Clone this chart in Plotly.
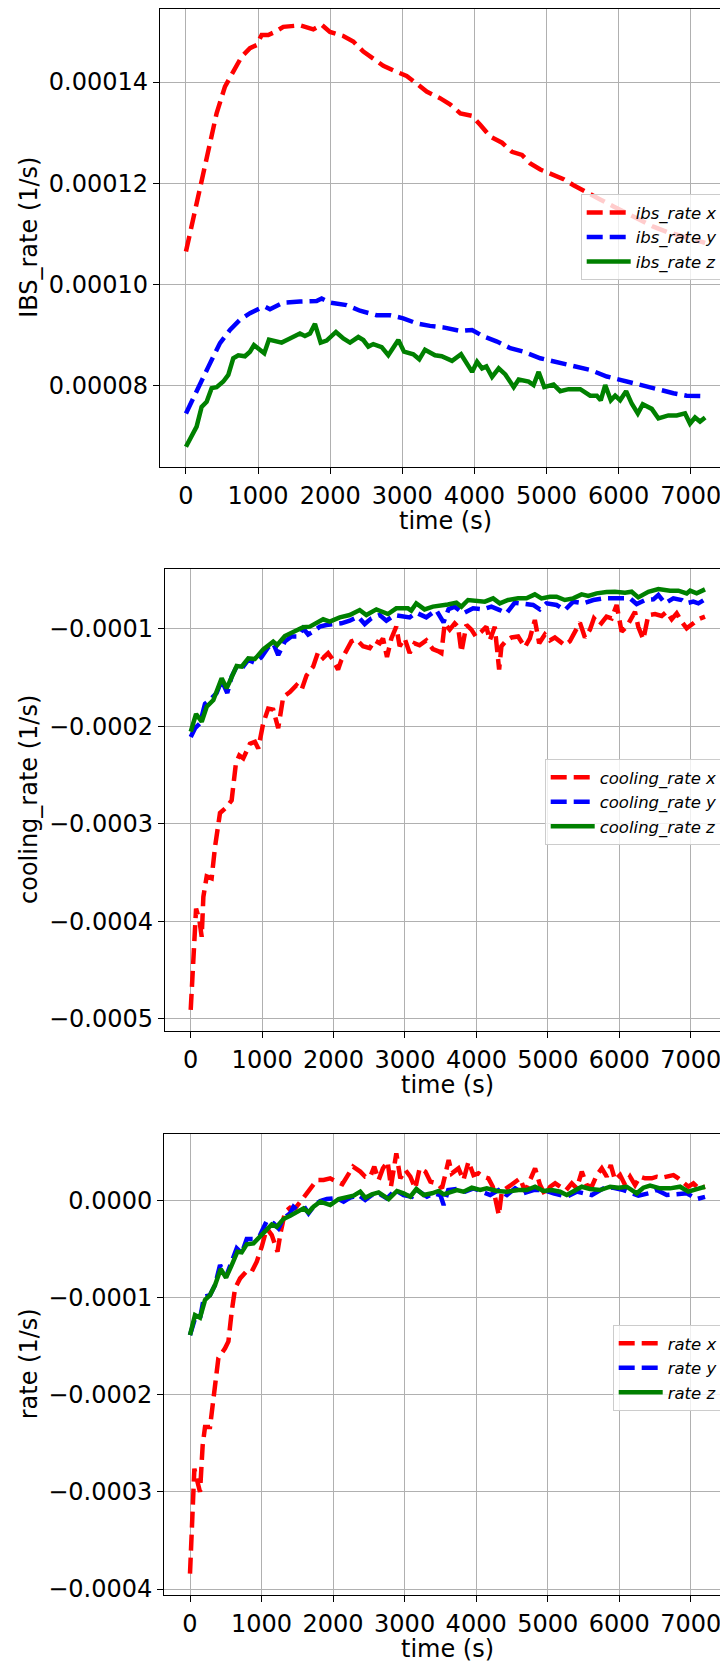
import plotly.graph_objects as go

# ---- panel 1: IBS rates ----
ibs_x_t = [0, 194, 310, 425, 541, 656, 772, 888, 980, 1050, 1142, 1234, 1350, 1581, 1766, 1882, 1997, 2182, 2321, 2460,
           2600, 2737, 2922, 3060, 3200, 3338, 3523, 3661, 3806, 3968, 4083, 4222, 4383, 4521, 4660, 4775, 4914, 5052, 5237, 5375,
           5560, 5744, 5929, 6114, 6298, 6483, 6667, 6852, 7037, 7200]
ibs_x = [0.0001065, 0.0001187, 0.0001266, 0.0001338, 0.0001391, 0.0001420, 0.0001450, 0.0001467, 0.0001473, 0.0001493,
         0.0001493, 0.0001499, 0.0001509, 0.0001512, 0.0001504, 0.0001513, 0.0001499, 0.0001491, 0.0001480, 0.0001460,
         0.0001447, 0.0001432, 0.0001420, 0.0001412, 0.0001397, 0.0001381, 0.0001368, 0.0001356, 0.0001338, 0.0001333,
         0.0001315, 0.0001292, 0.0001280, 0.0001262, 0.0001256, 0.0001239, 0.0001227, 0.0001219, 0.0001208, 0.0001196,
         0.0001183, 0.0001168, 0.0001154, 0.0001140, 0.0001127, 0.0001114, 0.0001104, 0.0001096, 0.0001089, 0.0001082]

ibs_y_t = [0, 148, 310, 472, 610, 749, 888, 1026, 1096, 1165, 1350, 1581, 1812, 1882, 1997, 2228, 2413, 2644, 2829, 3014,
           3200, 3384, 3569, 3806, 3968, 4129, 4314, 4498, 4683, 4914, 5144, 5375, 5606, 5837, 6021, 6206, 6390, 6575, 6760, 6944,
           7200]
ibs_y = [0.0000745, 0.0000791, 0.0000837, 0.0000884, 0.0000910, 0.0000930, 0.0000943, 0.0000953, 0.0000956, 0.0000951,
         0.0000964, 0.0000966, 0.0000967, 0.0000972, 0.0000964, 0.0000959, 0.0000948, 0.0000939, 0.0000939, 0.0000933,
         0.0000923, 0.0000918, 0.0000915, 0.0000908, 0.0000910, 0.0000897, 0.0000887, 0.0000874, 0.0000867, 0.0000854,
         0.0000847, 0.0000839, 0.0000831, 0.0000818, 0.0000811, 0.0000804, 0.0000797, 0.0000791, 0.0000785, 0.0000780,
         0.0000779]

ibs_z_t = [0, 79, 148, 217, 287, 356, 425, 518, 587, 656, 726, 818, 888, 943, 1003, 1086, 1151, 1234, 1327, 1442,
           1581, 1650, 1720, 1789, 1868, 1951, 2080, 2182, 2275, 2390, 2460, 2529, 2598, 2714, 2806, 2945, 3024, 3153, 3236, 3315,
           3454, 3546, 3690, 3815, 3968, 4037, 4106, 4166, 4245, 4337, 4429, 4545, 4614, 4752, 4821, 4891, 4969, 5098, 5190, 5306,
           5468, 5606, 5698, 5752, 5814, 5892, 5952, 6021, 6104, 6183, 6266, 6335, 6460, 6552, 6690, 6806, 6921, 6990, 7060, 7129,
           7200]
ibs_z = [0.0000679, 0.0000699, 0.0000719, 0.0000758, 0.0000768, 0.0000795, 0.0000797, 0.0000808, 0.0000821, 0.0000854,
         0.0000860, 0.0000858, 0.0000867, 0.0000880, 0.0000874, 0.0000864, 0.0000891, 0.0000889, 0.0000885, 0.0000893,
         0.0000903, 0.0000898, 0.0000903, 0.0000922, 0.0000885, 0.0000889, 0.0000906, 0.0000893, 0.0000885, 0.0000896,
         0.0000890, 0.0000877, 0.0000882, 0.0000876, 0.0000860, 0.0000890, 0.0000867, 0.0000862, 0.0000852, 0.0000871,
         0.0000860, 0.0000858, 0.0000849, 0.0000862, 0.0000827, 0.0000847, 0.0000834, 0.0000838, 0.0000817, 0.0000834,
         0.0000822, 0.0000797, 0.0000812, 0.0000808, 0.0000801, 0.0000827, 0.0000797, 0.0000802, 0.0000789, 0.0000793,
         0.0000793, 0.0000780, 0.0000780, 0.0000771, 0.0000801, 0.0000771, 0.0000780, 0.0000771, 0.0000789, 0.0000764,
         0.0000745, 0.0000763, 0.0000754, 0.0000735, 0.0000741, 0.0000741, 0.0000745, 0.0000725, 0.0000737, 0.0000729,
         0.0000737]

# ---- panel 2: cooling rates ----
cool_x_t = [0, 37, 75, 121, 154, 177, 224, 293, 340, 410, 503, 573, 633, 680, 736, 829, 899, 946, 1015, 1085,
            1155, 1225, 1295, 1388, 1481, 1551, 1621, 1714, 1784, 1854, 1924, 1993, 2063, 2110, 2180, 2250, 2320, 2413, 2506, 2576,
            2646, 2692, 2748, 2809, 2878, 2925, 2995, 3065, 3135, 3204, 3298, 3391, 3461, 3509, 3556, 3626, 3696, 3743, 3790, 3860,
            3930, 3991, 4070, 4140, 4187, 4257, 4318, 4350, 4421, 4491, 4584, 4678, 4748, 4818, 4879, 4958, 5028, 5098, 5168, 5238,
            5308, 5379, 5449, 5519, 5589, 5645, 5729, 5822, 5893, 5963, 6033, 6103, 6173, 6220, 6266, 6337, 6407, 6500, 6594, 6664,
            6734, 6804, 6874, 6944, 7037, 7107, 7200]
cool_x = [-0.000491, -0.000436, -0.000387, -0.000399, -0.000416, -0.000375, -0.000354, -0.000356, -0.000324, -0.000289,
          -0.000283, -0.000276, -0.000238, -0.000230, -0.000233, -0.000218, -0.000216, -0.000223, -0.000197, -0.000182,
          -0.000183, -0.000202, -0.000170, -0.000165, -0.000158, -0.000163, -0.000148, -0.000139, -0.000124, -0.000130,
          -0.000125, -0.000132, -0.000142, -0.000132, -0.000122, -0.000113, -0.000111, -0.000118, -0.000120, -0.000112,
          -0.000115, -0.000110, -0.000129, -0.000110, -0.000098, -0.000118, -0.000110, -0.000125, -0.000115, -0.000117,
          -0.000112, -0.000121, -0.000123, -0.000125, -0.0000945, -0.000101, -0.0000945, -0.000098, -0.000124, -0.0000962,
          -0.000101, -0.000108, -0.000103, -0.000098, -0.000112, -0.000098, -0.000142, -0.000118, -0.000112, -0.000109,
          -0.000108, -0.000119, -0.000110, -0.0000911, -0.000115, -0.000106, -0.000112, -0.000109, -0.000113, -0.000117,
          -0.000113, -0.000104, -0.0000938, -0.000109, -0.000101, -0.0000894, -0.0000962, -0.0000877, -0.0000894, -0.0000757,
          -0.000103, -0.000098, -0.0000894, -0.0000826, -0.000098, -0.000111, -0.000086, -0.000085, -0.000087, -0.0000826,
          -0.0000904, -0.0000843, -0.0000928, -0.0000997, -0.0000945, -0.0000904, -0.0000877]

cool_y_t = [0, 61, 130, 200, 270, 363, 433, 512, 573, 643, 713, 806, 899, 992, 1085, 1155, 1225, 1318, 1411, 1504,
            1574, 1644, 1714, 1807, 1900, 1993, 2110, 2226, 2343, 2436, 2529, 2646, 2739, 2855, 2972, 3065, 3158, 3298, 3437, 3540,
            3610, 3696, 3813, 3953, 4093, 4210, 4327, 4421, 4537, 4678, 4794, 4888, 4981, 5122, 5238, 5355, 5495, 5636, 5776, 5916,
            6056, 6150, 6243, 6360, 6477, 6547, 6640, 6757, 6874, 6935, 7037, 7107, 7200]
cool_y = [-0.000211, -0.000202, -0.000197, -0.000177, -0.000173, -0.000166, -0.000153, -0.000166, -0.000149, -0.000139,
          -0.000141, -0.000132, -0.000135, -0.000129, -0.000119, -0.000115, -0.000127, -0.000113, -0.000108, -0.000108,
          -0.0000997, -0.000106, -0.000103, -0.0000979, -0.0000962, -0.0000952, -0.0000945, -0.0000918, -0.0000877, -0.0000952,
          -0.0000894, -0.0000860, -0.0000918, -0.0000860, -0.0000877, -0.0000884, -0.0000836, -0.0000884, -0.0000809, -0.0000935,
          -0.0000800, -0.0000774, -0.0000843, -0.0000791, -0.0000802, -0.0000774, -0.0000809, -0.0000843, -0.0000733, -0.0000740,
          -0.0000757, -0.0000802, -0.0000740, -0.0000757, -0.0000809, -0.0000723, -0.0000740, -0.0000706, -0.0000689, -0.0000689,
          -0.0000689, -0.0000689, -0.0000747, -0.0000706, -0.0000699, -0.0000654, -0.0000740, -0.0000689, -0.0000706, -0.0000740,
          -0.0000723, -0.0000740, -0.0000699]

cool_z_t = [0, 75, 154, 224, 317, 433, 503, 643, 713, 806, 899, 1015, 1155, 1211, 1318, 1458, 1574, 1667, 1761, 1854,
            1947, 2087, 2226, 2366, 2459, 2599, 2762, 2878, 3041, 3088, 3158, 3274, 3391, 3530, 3600, 3720, 3790, 3883, 4000, 4117,
            4234, 4327, 4444, 4584, 4701, 4818, 4911, 5028, 5122, 5238, 5355, 5472, 5566, 5683, 5822, 5939, 6080, 6173, 6266, 6407,
            6547, 6711, 6827, 6944, 6991, 7084, 7200]
cool_z = [-0.0002056, -0.0001875, -0.0001954, -0.0001800, -0.0001732, -0.0001509, -0.0001612, -0.0001383, -0.0001390, -0.0001304,
          -0.0001311, -0.0001212, -0.0001133, -0.0001168, -0.0001075, -0.0001021, -0.0000986, -0.0000979, -0.0000945, -0.0000904,
          -0.0000928, -0.0000884, -0.0000860, -0.0000809, -0.0000860, -0.0000802, -0.0000850, -0.0000791, -0.0000791, -0.0000815,
          -0.0000740, -0.0000802, -0.0000774, -0.0000767, -0.0000752, -0.0000733, -0.0000774, -0.0000706, -0.0000713, -0.0000723,
          -0.0000689, -0.0000740, -0.0000706, -0.0000689, -0.0000689, -0.0000648, -0.0000689, -0.0000672, -0.0000672, -0.0000706,
          -0.0000689, -0.0000648, -0.0000665, -0.0000638, -0.0000624, -0.0000621, -0.0000631, -0.0000621, -0.0000679, -0.0000621,
          -0.0000593, -0.0000610, -0.0000610, -0.0000638, -0.0000610, -0.0000638, -0.0000597]

# ---- panel 3: net rates ----
rate_x_t = [0, 33, 61, 93, 140, 177, 210, 280, 327, 397, 490, 537, 583, 630, 700, 793, 863, 933, 1003, 1073,
            1143, 1223, 1269, 1330, 1400, 1470, 1563, 1633, 1703, 1773, 1867, 1960, 2030, 2130, 2280, 2380, 2450, 2520, 2576, 2637,
            2697, 2763, 2809, 2884, 2940, 3010, 3080, 3150, 3210, 3290, 3360, 3453, 3523, 3570, 3616, 3660, 3753, 3823, 3893, 3963,
            4033, 4102, 4172, 4233, 4280, 4317, 4359, 4452, 4545, 4615, 4685, 4731, 4824, 4894, 4964, 5034, 5104, 5174, 5258, 5337,
            5407, 5477, 5547, 5616, 5686, 5756, 5826, 5882, 5942, 6012, 6082, 6152, 6222, 6292, 6362, 6455, 6525, 6595, 6664, 6758,
            6827, 6897, 6967, 7037, 7107, 7200]
rate_x = [-0.000384, -0.000327, -0.000276, -0.000286, -0.000300, -0.000252, -0.000233, -0.000233, -0.000207, -0.000162,
          -0.000152, -0.000145, -0.000114, -0.0000903, -0.0000800, -0.0000725, -0.0000731, -0.0000628, -0.0000474, -0.0000285,
          -0.0000354, -0.0000525, -0.0000319, -0.0000113, -0.0000072, -0.0000079, 0.0000007, 0.0000076, 0.0000144, 0.0000213,
          0.0000213, 0.0000230, 0.0000203, 0.0000170, 0.0000350, 0.0000300, 0.0000247, 0.0000247, 0.0000350, 0.0000213,
          0.0000333, 0.0000402, 0.0000144, 0.0000488, 0.0000230, 0.0000316, 0.0000247, 0.0000127, 0.0000333, 0.0000300,
          0.0000196, 0.0000179, 0.0000127, 0.0000264, 0.0000419, 0.0000282, 0.0000333, 0.0000213, 0.0000402, 0.0000264,
          0.0000282, 0.0000247, 0.0000230, 0.0000144, -0.0000010, -0.0000148, 0.0000093, 0.0000144, 0.0000196, 0.0000230,
          0.0000093, 0.0000179, 0.0000333, 0.0000161, 0.0000058, 0.0000144, 0.0000179, 0.0000144, 0.0000110, 0.0000179,
          0.0000127, 0.0000300, 0.0000161, 0.0000144, 0.0000264, 0.0000333, 0.0000247, 0.0000367, 0.0000213, 0.0000264,
          0.0000161, 0.0000247, 0.0000161, 0.0000247, 0.0000230, 0.0000230, 0.0000247, 0.0000237, 0.0000247, 0.0000264,
          0.0000230, 0.0000179, 0.0000144, 0.0000179, 0.0000127, 0.0000144]

rate_y_t = [0, 70, 140, 196, 280, 350, 420, 504, 583, 653, 723, 793, 887, 980, 1073, 1167, 1237, 1307, 1400, 1447,
            1517, 1610, 1657, 1750, 1820, 1913, 2007, 2077, 2147, 2240, 2357, 2450, 2543, 2637, 2753, 2870, 2986, 3103, 3173, 3313,
            3406, 3500, 3546, 3610, 3730, 3846, 3963, 4079, 4196, 4312, 4429, 4545, 4661, 4801, 4941, 5081, 5267, 5407, 5616, 5779,
            5919, 6059, 6268, 6408, 6525, 6664, 6781, 6944, 7084, 7200]
rate_y = [-0.0001384, -0.0001212, -0.0001212, -0.0000989, -0.0000972, -0.0000869, -0.0000663, -0.0000783, -0.0000628, -0.0000491,
          -0.0000542, -0.0000395, -0.0000395, -0.0000354, -0.0000209, -0.0000233, -0.0000285, -0.0000182, -0.0000130, -0.0000062,
          -0.0000106, -0.0000079, -0.0000130, -0.0000038, -0.0000003, 0.0000017, 0.0000024, 0.0000017, -0.0000010, 0.0000031,
          0.0000058, 0.0000007, 0.0000058, 0.0000076, 0.0000024, 0.0000110, 0.0000058, 0.0000041, 0.0000110, 0.0000041,
          0.0000076, 0.0000058, -0.0000045, 0.0000110, 0.0000120, 0.0000093, 0.0000127, 0.0000093, 0.0000058, 0.0000110,
          0.0000058, 0.0000127, 0.0000076, 0.0000110, 0.0000110, 0.0000076, 0.0000041, 0.0000093, 0.0000058, 0.0000127,
          0.0000134, 0.0000110, 0.0000052, 0.0000076, 0.0000110, 0.0000058, 0.0000065, 0.0000076, 0.0000017, 0.0000040]

rate_z_t = [0, 70, 140, 210, 280, 350, 429, 504, 583, 663, 723, 793, 887, 980, 1050, 1143, 1213, 1307, 1400, 1493,
            1587, 1657, 1727, 1820, 1960, 2077, 2193, 2287, 2380, 2450, 2543, 2637, 2777, 2893, 2986, 3080, 3164, 3266, 3383, 3476,
            3546, 3640, 3730, 3823, 3939, 4056, 4149, 4289, 4429, 4592, 4708, 4824, 4941, 5057, 5174, 5267, 5384, 5477, 5593, 5733,
            5873, 5989, 6105, 6245, 6338, 6431, 6571, 6711, 6851, 6967, 7084, 7200]
rate_z = [-0.0001384, -0.0001178, -0.0001205, -0.0001023, -0.0000972, -0.0000869, -0.0000704, -0.0000793, -0.0000663, -0.0000525,
          -0.0000532, -0.0000450, -0.0000440, -0.0000371, -0.0000312, -0.0000244, -0.0000268, -0.0000189, -0.0000155, -0.0000120,
          -0.0000079, -0.0000120, -0.0000062, -0.0000010, -0.0000045, 0.0000017, 0.0000031, 0.0000052, 0.0000093, 0.0000031,
          0.0000065, 0.0000086, 0.0000017, 0.0000100, 0.0000076, 0.0000041, 0.0000120, 0.0000058, 0.0000076, 0.0000100,
          0.0000065, 0.0000093, 0.0000110, 0.0000093, 0.0000134, 0.0000110, 0.0000127, 0.0000100, 0.0000093, 0.0000110,
          0.0000110, 0.0000144, 0.0000100, 0.0000110, 0.0000093, 0.0000058, 0.0000110, 0.0000144, 0.0000120, 0.0000110,
          0.0000144, 0.0000134, 0.0000144, 0.0000076, 0.0000134, 0.0000155, 0.0000127, 0.0000127, 0.0000144, 0.0000093,
          0.0000120, 0.0000144]

# tick labels
ibs_ticks = [0.00008, 0.00010, 0.00012, 0.00014]
ibs_ticktext = ["0.00008", "0.00010", "0.00012", "0.00014"]
cool_ticks = [-0.0005, -0.0004, -0.0003, -0.0002, -0.0001]
cool_ticktext = ["\u22120.0005", "\u22120.0004", "\u22120.0003", "\u22120.0002", "\u22120.0001"]
rate_ticks = [-0.0004, -0.0003, -0.0002, -0.0001, 0.0]
rate_ticktext = ["\u22120.0004", "\u22120.0003", "\u22120.0002", "\u22120.0001", "0.0000"]
time_ticks = [0, 1000, 2000, 3000, 4000, 5000, 6000, 7000]

W, H = 728, 1663
OFF = 8  # the page body margin shifts the figure by this much
FONT = "DejaVu Sans"
DASH = "16px,7px"
LW = 4.5


def px(x):
    return (x - OFF) / W


def py(y):
    return 1 - (y - OFF) / H


panels = [
    # (suffix, legend, names, series, y ticks, y text, y range, plot box top/bottom, plot box left/right, ytitle)
    ("", "legend", ["ibs_rate x", "ibs_rate y", "ibs_rate z"],
     [(ibs_x_t, ibs_x), (ibs_y_t, ibs_y), (ibs_z_t, ibs_z)],
     ibs_ticks, ibs_ticktext, [0.00006397, 0.00015443], (9.0, 466.7), (160.0, 731.1), "IBS_rate (1/s)"),
    ("2", "legend2", ["cooling_rate x", "cooling_rate y", "cooling_rate z"],
     [(cool_x_t, cool_x), (cool_y_t, cool_y), (cool_z_t, cool_z)],
     cool_ticks, cool_ticktext, [-0.0005123, -0.0000391], (569.3, 1030.7), (165.0, 730.7), "cooling_rate (1/s)"),
    ("3", "legend3", ["rate x", "rate y", "rate z"],
     [(rate_x_t, rate_x), (rate_y_t, rate_y), (rate_z_t, rate_z)],
     rate_ticks, rate_ticktext, [-0.0004061, 0.000069], (1133.7, 1595.0), (164.25, 730.8), "rate (1/s)"),
]
legend_tops = [194.3, 759.0, 1325.0]
LEGEND_RIGHT = 722.7

colors = ["#ff0000", "#0000ff", "#008000"]
dashes = [DASH, DASH, "solid"]

fig = go.Figure()
layout = dict(width=W, height=H, margin=dict(l=0, r=0, t=0, b=0, autoexpand=False),
              paper_bgcolor="white", plot_bgcolor="white",
              font=dict(family=FONT, size=24, color="black"), annotations=[])

axis_common = dict(showline=True, linecolor="black", linewidth=1.4, ticks="outside", ticklen=6,
                   tickwidth=1.4, tickcolor="black", showgrid=True, gridcolor="#b0b0b0", gridwidth=1.4,
                   zeroline=False, automargin=False, tickfont=dict(family=FONT, size=24, color="black"))

for i, (sfx, leg, names, series, yt, ytt, yr, (ptop, pbot), (pleft, pright), ytitle) in enumerate(panels):
    for name, (t, v), c, d in zip(names, series, colors, dashes):
        fig.add_trace(go.Scatter(x=t, y=v, mode="lines", name=name, legend=leg,
                                 xaxis="x" + sfx, yaxis="y" + sfx,
                                 line=dict(color=c, width=LW, dash=d)))
    layout["xaxis" + sfx] = dict(axis_common, domain=[px(pleft), px(pright)], range=[-360, 7560],
                                 anchor="y" + sfx, tickvals=time_ticks, mirror=True, ticklabelstandoff=1)
    layout["yaxis" + sfx] = dict(axis_common, domain=[py(pbot), min(1.0, py(ptop))], range=yr,
                                 anchor="x" + sfx, tickvals=yt, ticktext=ytt)
    layout[leg] = dict(x=px(LEGEND_RIGHT), y=py(legend_tops[i]), xanchor="right", yanchor="top",
                       bgcolor="rgba(255,255,255,0.8)", bordercolor="#cccccc", borderwidth=1,
                       font=dict(family=FONT, size=16.5, color="black", style="italic"),
                       itemwidth=44)
    # axis titles
    layout["annotations"].append(dict(text=ytitle, x=px(29), y=py((ptop + pbot) / 2),
                                      xref="paper", yref="paper", showarrow=False, textangle=-90,
                                      xanchor="center", yanchor="middle",
                                      font=dict(family=FONT, size=24, color="black")))
    layout["annotations"].append(dict(text="time (s)", x=px((pleft + pright) / 2), y=py(pbot + 54),
                                      xref="paper", yref="paper", showarrow=False,
                                      xanchor="center", yanchor="middle",
                                      font=dict(family=FONT, size=24, color="black")))

fig.update_layout(**layout)
fig.write_html("out.html")
